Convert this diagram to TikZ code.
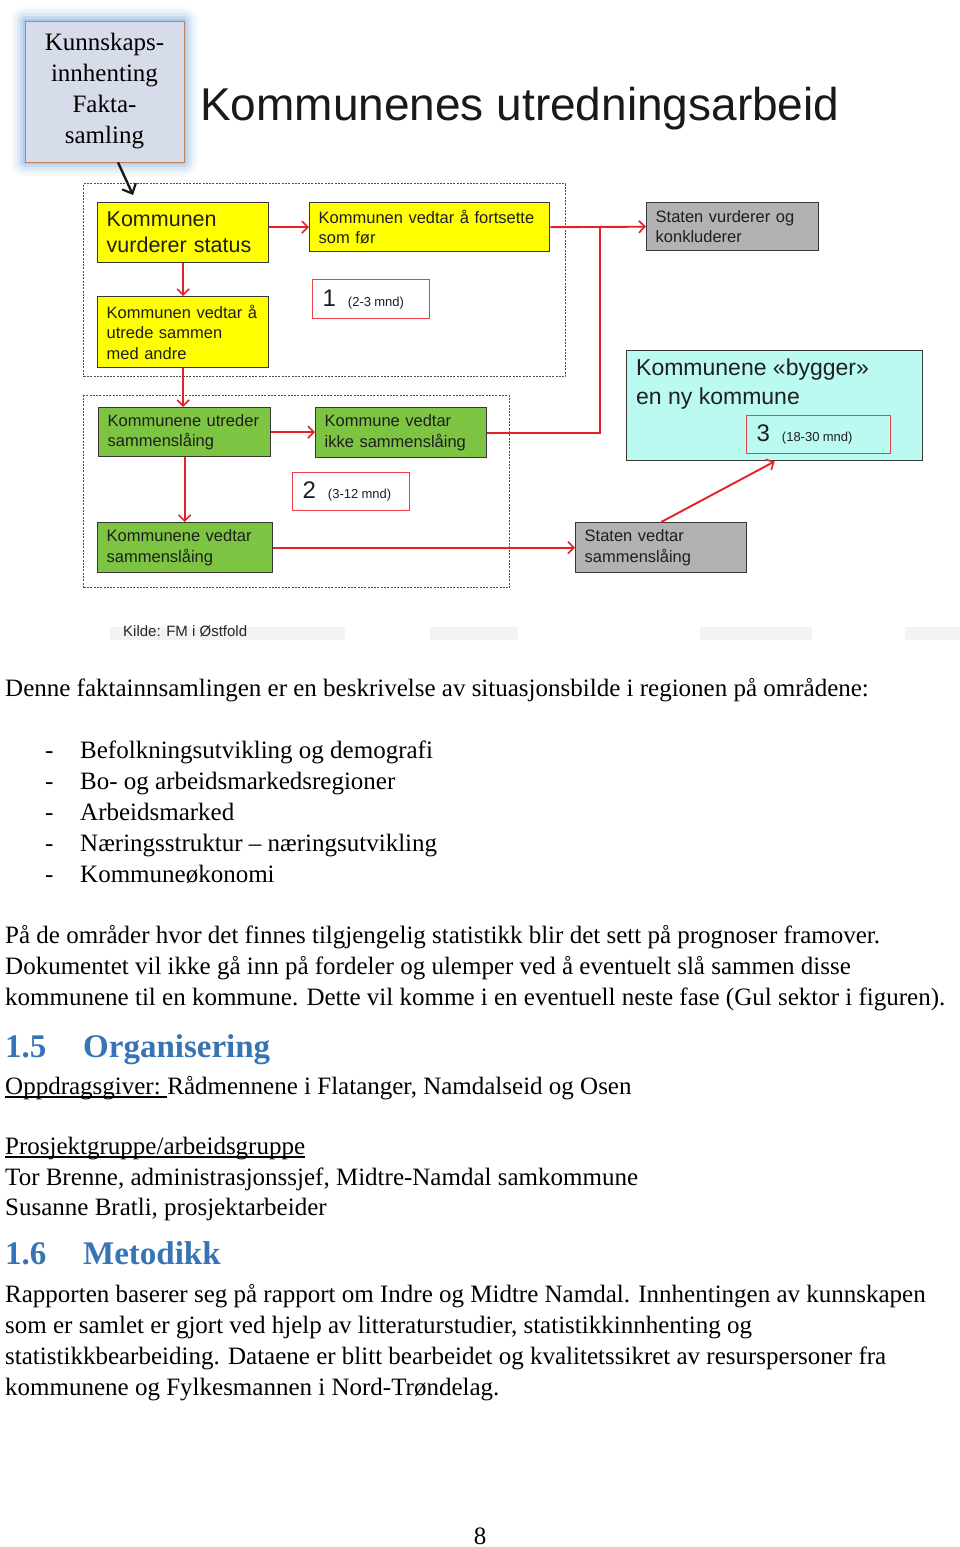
\documentclass[tikz,border=0pt]{standalone}
\usepackage{fontspec}
\setmainfont{Liberation Serif}
\newfontfamily\arial{Liberation Sans}
\usetikzlibrary{arrows.meta,calc,backgrounds}
\definecolor{ybox}{RGB}{255,255,0}
\definecolor{gbox}{RGB}{125,196,66}
\definecolor{grbox}{RGB}{178,178,178}
\definecolor{cbox}{RGB}{186,250,240}
\definecolor{redl}{RGB}{228,32,40}
\definecolor{boxline}{RGB}{55,55,55}
\definecolor{headblue}{RGB}{54,116,181}
\definecolor{kbfill}{RGB}{214,220,234}
\definecolor{kbline}{RGB}{196,130,90}
\definecolor{glowc}{RGB}{100,155,215}
\definecolor{dashc}{RGB}{80,80,80}
\definecolor{bandc}{RGB}{243,243,243}
\tikzset{
  bx/.style={draw=boxline, line width=1.4pt, anchor=north west, inner xsep=9pt, inner ysep=0pt,
    align=left, text=black!88, font=\arial\fontsize{16.5}{20.5}\selectfont},
  ybx/.style={bx, fill=ybox},
  gbx/.style={bx, fill=gbox},
  grbx/.style={bx, fill=grbox},
  tbox/.style={draw=redl!85, line width=1.2pt, fill=white, anchor=north west, inner xsep=10pt,
    inner ysep=0pt, align=left, text=black!88},
  rarrow/.style={draw=redl, line width=1.9pt, -{Straight Barb[length=6pt,width=12pt,line width=1.6pt]}},
  rline/.style={draw=redl, line width=1.9pt},
  dashbox/.style={draw=dashc, line width=1.4pt, dash pattern=on 2pt off 1.3pt, anchor=north west, inner sep=0pt},
  body/.style={anchor=base west, inner sep=0pt, font=\fontsize{25}{30}\selectfont},
  head/.style={anchor=base west, inner sep=0pt, font=\bfseries\fontsize{33}{36}\selectfont, text=headblue},
}
\newcommand{\smalltxt}[1]{{\arial\fontsize{13}{13}\selectfont #1}}
\newcommand{\bigtxt}[1]{{\arial\fontsize{24}{24}\selectfont #1}}
\begin{document}
\begin{tikzpicture}[x=1pt,y=-1pt]
\useasboundingbox (0,0) rectangle (960,1547);

% faint bands under figure
\fill[bandc] (110,627) rectangle (345,640);
\fill[bandc] (430,627) rectangle (518,640);
\fill[bandc] (700,627) rectangle (812,640);
\fill[bandc] (905,627) rectangle (960,640);

% glow behind top box
\foreach \d/\o in {14/0.05, 11/0.08, 8/0.12, 5/0.18, 2/0.25}
  \fill[glowc, opacity=\o, rounded corners=\d pt] (25-\d,21-\d) rectangle (184+\d,162+\d);

% top box
\node[draw=kbline, line width=0.8pt, fill=kbfill, minimum width=159, minimum height=141, align=center,
  font=\fontsize{25}{31}\selectfont, inner sep=0pt] (kb) at (104.5,91.5)
  {Kunnskaps-\\innhenting\\Fakta-\\samling};

% title
\node[anchor=base west, inner sep=0pt, font=\arial\fontsize{46}{50}\selectfont, text=black!90] (title) at (200,120)
  {Kommunenes utredningsarbeid};

% dashed groups
\node[dashbox, minimum width=482, minimum height=193] (grp1) at (83,183) {};
\node[dashbox, minimum width=426, minimum height=192] (grp2) at (83,395) {};

% boxes
\node[ybx, minimum width=171, minimum height=60, text width=153, font=\arial\fontsize{21.5}{26}\selectfont] (y1) at (97,202)
  {Kommunen\\vurderer status};
\node[ybx, minimum width=240, minimum height=49, text width=222] (y2) at (309,202)
  {Kommunen vedtar å fortsette\\som før};
\node[grbx, minimum width=172, minimum height=48, text width=154] (gr1) at (646,202)
  {Staten vurderer og\\konkluderer};
\node[ybx, minimum width=171, minimum height=71, text width=153] (y3) at (97,296)
  {Kommunen vedtar å\\utrede sammen\\med andre};
\node[gbx, minimum width=172, minimum height=49, text width=154] (gn1) at (98,407)
  {Kommunene utreder\\sammenslåing};
\node[gbx, minimum width=171, minimum height=50, text width=153] (gn2) at (315,407)
  {Kommune vedtar\\ikke sammenslåing};
\node[gbx, minimum width=175, minimum height=50, text width=157] (gn3) at (97,522)
  {Kommunene vedtar\\sammenslåing};
\node[grbx, minimum width=171, minimum height=50, text width=153] (gr2) at (575,522)
  {Staten vedtar\\sammenslåing};
\node[bx, fill=cbox, minimum width=296, minimum height=110] (cy) at (626,350) {};
\node[anchor=north west, inner sep=0pt, align=left, text=black!88, font=\arial\fontsize{23}{29}\selectfont] (cyt)
  at ($(cy.north west)+(10,9)$) {Kommunene «bygger»\\en ny kommune};

% phase boxes
\node[tbox, minimum width=117, minimum height=39, text width=97] (t1) at (312,279)
  {\bigtxt{1}\hspace{12pt}\smalltxt{(2-3 mnd)}};
\node[tbox, minimum width=117, minimum height=38, text width=97] (t2) at (292,472)
  {\bigtxt{2}\hspace{12pt}\smalltxt{(3-12 mnd)}};
\node[tbox, fill=cbox, minimum width=144, minimum height=38, text width=124] (t3) at (746,415)
  {\bigtxt{3}\hspace{12pt}\smalltxt{(18-30 mnd)}};

% connectors
\coordinate (jn) at ($(y2.east)!0.52!(gr1.west)$);
\draw[rarrow] (y1.east |- y2.west) -- (y2.west);
\draw[rarrow] (y2.east) -- (gr1.west);
\draw[rline] (gn2.east) -| (jn);
\draw[rarrow] (y1.south) -- (y3.north);
\draw[rarrow] (y3.south) -- (y3.south |- gn1.north);
\draw[rarrow] (gn1.east) -- (gn1.east -| gn2.west);
\draw[rarrow] (gn1.south) -- (gn1.south |- gn3.north);
\draw[rarrow] (gn3.east) -- (gr2.west);
\draw[rarrow] (gr2.north) -- (cy.south);

\coordinate (ka) at (118,163);
\coordinate (kz) at (133,195);
\draw[line width=2.4pt, black!90, -{Straight Barb[length=8pt,width=15pt,line width=2.2pt]}] (kb.south -| ka) -- (kz);

% source
\node[anchor=base west, inner sep=0pt, font=\arial\fontsize{15}{15}\selectfont, text=black!85] (kilde) at (123,636)
  {Kilde: FM i Østfold};

% body text
\node[body] (p1) at (5,696) {Denne faktainnsamlingen er en beskrivelse av situasjonsbilde i regionen på områdene:};
\foreach \t [count=\i from 0] in {Befolkningsutvikling og demografi, Bo- og arbeidsmarkedsregioner, Arbeidsmarked, Næringsstruktur – næringsutvikling, Kommuneøkonomi}{
  \node[body] (d\i) at (45,758+31*\i) {-};
  \node[body] (l\i) at (80,758+31*\i) {\t};
}
\node[body] (q1) at (5,943) {På de områder hvor det finnes tilgjengelig statistikk blir det sett på prognoser framover.};
\node[body] (q2) at (5,974) {Dokumentet vil ikke gå inn på fordeler og ulemper ved å eventuelt slå sammen disse};
\node[body] (q3) at (5,1005) {kommunene til en kommune. Dette vil komme i en eventuell neste fase (Gul sektor i figuren).};

\node[head] (h15) at (5,1057) {\makebox[78pt][l]{1.5}Organisering};
\node[body] (od) at (5,1094) {Oppdragsgiver:\kern6.3pt};
\node[body] (odr) at (od.base east) {Rådmennene i Flatanger, Namdalseid og Osen};
\draw[line width=1.2pt] ([yshift=-3pt]od.base west) -- ([yshift=-3pt]od.base east);
\node[body] (pg) at (5,1154) {Prosjektgruppe/arbeidsgruppe};
\draw[line width=1.2pt] ([yshift=-3pt]pg.base west) -- ([yshift=-3pt]pg.base east);
\node[body] (tb) at (5,1185) {Tor Brenne, administrasjonssjef, Midtre-Namdal samkommune};
\node[body] (sb) at (5,1215) {Susanne Bratli, prosjektarbeider};

\node[head] (h16) at (5,1264) {\makebox[78pt][l]{1.6}Metodikk};
\node[body] (r1) at (5,1302) {Rapporten baserer seg på rapport om Indre og Midtre Namdal. Innhentingen av kunnskapen};
\node[body] (r2) at (5,1333) {som er samlet er gjort ved hjelp av litteraturstudier, statistikkinnhenting og};
\node[body] (r3) at (5,1364) {statistikkbearbeiding. Dataene er blitt bearbeidet og kvalitetssikret av resurspersoner fra};
\node[body] (r4) at (5,1395) {kommunene og Fylkesmannen i Nord-Trøndelag.};

\node[anchor=base, inner sep=0pt, font=\fontsize{25}{30}\selectfont] (pn) at (480,1544) {8};
\end{tikzpicture}
\end{document}
